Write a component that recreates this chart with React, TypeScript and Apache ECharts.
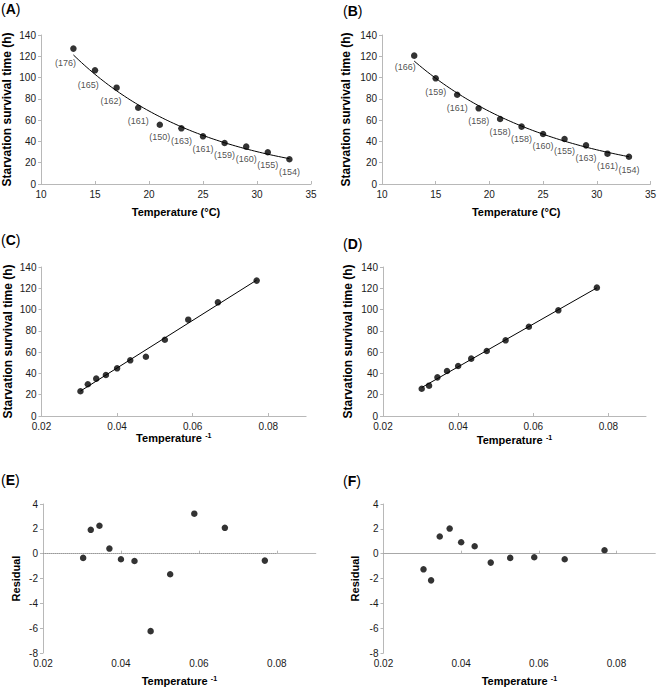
import React, { useEffect, useRef } from 'react';
import * as echarts from 'echarts';

// ---------- data ----------
const temperatures = [13, 15, 17, 19, 21, 23, 25, 27, 29, 31, 33];
const survivalA = [127.2, 106.8, 90.5, 71.7, 55.7, 52.3, 44.8, 38.5, 35.1, 29.8, 23.2];
const survivalB = [120.6, 99.3, 83.9, 71.1, 61.1, 53.9, 47.0, 42.3, 36.3, 28.5, 25.6];
const countsA = ['(176)', '(165)', '(162)', '(161)', '(150)', '(163)', '(161)', '(159)', '(160)', '(155)', '(154)'];
const countsB = ['(166)', '(159)', '(161)', '(158)', '(158)', '(158)', '(160)', '(155)', '(163)', '(161)', '(154)'];
const residualsE = [-0.56, 2.08, 3.22, -1.66, -6.24, -0.59, -0.45, 0.41, 2.25, 1.92, -0.34];
const residualsF = [0.28, -0.45, -0.29, -0.34, -0.72, 0.6, 0.92, 2.02, 1.38, -2.15, -1.26];
const invTicks = [0.02, 0.04, 0.06, 0.08];
const panelLetters = ['A', 'B', 'C', 'D', 'E', 'F'];

// ---------- style (label nudges) ----------
const labelShiftA = [[-8, 14.3], [-6.7, 15], [-5.5, 13.7], [0, 13], [0, 12], [0, 12.3], [0, 12.7], [0, 12.3], [0, 12.3], [0, 12.7], [0, 12.7]];
const labelShiftB = [[-9, 11.7], [0, 13.7], [0, 13.3], [0, 13], [0, 13.3], [0, 12.3], [0, 12.3], [0, 12.3], [0, 12.7], [0, 12.7], [0, 13.7]];

const FONT = '"Liberation Sans", Arial, Helvetica, sans-serif';
const AXIS_GRAY = '#b8b8b8';

function expFit(xs: number[], ys: number[]) {
  const n = xs.length;
  const ls = ys.map((v) => Math.log(v));
  const mx = xs.reduce((s, v) => s + v, 0) / n;
  const ml = ls.reduce((s, v) => s + v, 0) / n;
  let sxy = 0, sxx = 0;
  for (let i = 0; i < n; i++) { sxy += (xs[i] - mx) * (ls[i] - ml); sxx += (xs[i] - mx) ** 2; }
  const b = sxy / sxx;
  const a = Math.exp(ml - b * mx);
  return (x: number) => a * Math.exp(b * x);
}
function linFit(xs: number[], ys: number[]) {
  const n = xs.length;
  const mx = xs.reduce((s, v) => s + v, 0) / n;
  const my = ys.reduce((s, v) => s + v, 0) / n;
  let sxy = 0, sxx = 0;
  for (let i = 0; i < n; i++) { sxy += (xs[i] - mx) * (ys[i] - my); sxx += (xs[i] - mx) ** 2; }
  const b = sxy / sxx;
  const a = my - b * mx;
  return (x: number) => a + b * x;
}

const invT = temperatures.map((t) => 1 / t);

function curvePoints(ys: number[]) {
  const f = expFit(temperatures, ys);
  const pts: number[][] = [];
  const t0 = temperatures[0], t1 = temperatures[temperatures.length - 1];
  const steps = 80;
  for (let i = 0; i <= steps; i++) {
    const t = t0 + ((t1 - t0) * i) / steps;
    pts.push([t, f(t)]);
  }
  return pts;
}
function linePoints(ys: number[]) {
  const f = linFit(invT, ys);
  const lo = Math.min(...invT), hi = Math.max(...invT);
  return [[lo, f(lo)], [hi, f(hi)]];
}

const grids = [
  { left: 41, top: 35, width: 270, height: 149 },
  { left: 382, top: 35, width: 269, height: 149 },
  { left: 41.5, top: 267, width: 264.6, height: 149 },
  { left: 383, top: 267, width: 263, height: 149 },
  { left: 43, top: 504, width: 272.8, height: 149 },
  { left: 383.5, top: 504, width: 271.8, height: 149 },
];
const xNameGaps = [22, 22, 16, 18, 22, 22];
const yNameGaps = [28, 30, 28, 29, 22, 23];
const letterPos = [[1, 8.5], [343, 10.5], [1, 240], [343, 244], [1, 480], [343, 481]];

export default function App() {
  const ref = useRef<HTMLDivElement>(null);
  useEffect(() => {
    if (!ref.current) return;
    const chart = echarts.init(ref.current, undefined, { renderer: 'svg' });

    const axisLine = { show: true, lineStyle: { color: AXIS_GRAY, width: 1 } };
    const labelStyle = { fontSize: 10, color: '#1a1a1a', fontFamily: FONT, margin: 5 };

    const xAxes: any[] = grids.map((_, i) => {
      const base: any = {
        type: 'value',
        gridIndex: i,
        axisLine,
        splitLine: { show: false },
        nameLocation: 'middle',
        nameGap: xNameGaps[i],
      };
      if (i < 2) {
        return {
          ...base,
          min: 10, max: 35, interval: 5,
          axisTick: { show: true, inside: true, length: 3, lineStyle: { color: AXIS_GRAY } },
          axisLabel: { ...labelStyle },
          name: 'Temperature (°C)',
          nameTextStyle: { fontSize: 11, fontWeight: 'bold', color: '#000', fontFamily: FONT },
        };
      }
      return {
        ...base,
        min: 0.02, max: 0.09, interval: 0.02,
        axisTick: { show: true, inside: true, length: 3, lineStyle: { color: AXIS_GRAY }, customValues: invTicks },
        axisLabel: { ...labelStyle, customValues: invTicks, formatter: (v: number) => v.toFixed(2) },
        name: '{a|Temperature} {s|-1}',
        nameTextStyle: {
          color: '#000',
          fontFamily: FONT,
          rich: {
            a: { fontSize: 11, fontWeight: 'bold', color: '#000', fontFamily: FONT },
            s: { fontSize: 7, fontWeight: 'bold', color: '#000', fontFamily: FONT, verticalAlign: 'top', lineHeight: 8 },
          },
        },
      };
    });

    const yAxes: any[] = grids.map((_, i) => {
      const resid = i >= 4;
      return {
        type: 'value',
        gridIndex: i,
        min: resid ? -8 : 0,
        max: resid ? 4 : 140,
        interval: resid ? 2 : 20,
        axisLine,
        axisTick: { show: true, inside: false, length: 3, lineStyle: { color: AXIS_GRAY } },
        axisLabel: { ...labelStyle },
        splitLine: { show: false },
        name: resid ? 'Residual' : 'Starvation survival time (h)',
        nameLocation: 'middle',
        nameRotate: 90,
        nameGap: yNameGaps[i],
        nameTextStyle: { fontSize: resid ? 11 : 12, fontWeight: 'bold', color: '#000', fontFamily: FONT },
      };
    });

    const dot = { symbol: 'circle', symbolSize: 6.5, itemStyle: { color: '#000' } };
    const fitLine = {
      type: 'line', showSymbol: false, symbol: 'none', smooth: false,
      lineStyle: { color: '#000', width: 1 }, z: 1, silent: true,
    };
    const labelled = (ys: number[], labels: string[], shifts: number[][]) =>
      temperatures.map((t, i) => ({
        value: [t, ys[i]],
        label: {
          show: true, position: 'inside', offset: shifts[i], formatter: labels[i],
          fontSize: 9, color: '#222', fontFamily: FONT,
          textBorderWidth: 0, textBorderColor: 'transparent', textShadowBlur: 0,
        },
      }));
    const zeroLine = {
      silent: true,
      symbol: ['none', 'none'],
      label: { show: false },
      lineStyle: { type: 'dotted', color: '#999', width: 1 },
      data: [[{ coord: [invTicks[0], 0] }, { coord: [invTicks[invTicks.length - 1], 0] }]],
    };

    const series: any[] = [
      { ...fitLine, xAxisIndex: 0, yAxisIndex: 0, data: curvePoints(survivalA) },
      { type: 'scatter', ...dot, xAxisIndex: 0, yAxisIndex: 0, z: 3, data: labelled(survivalA, countsA, labelShiftA) },
      { ...fitLine, xAxisIndex: 1, yAxisIndex: 1, data: curvePoints(survivalB) },
      { type: 'scatter', ...dot, xAxisIndex: 1, yAxisIndex: 1, z: 3, data: labelled(survivalB, countsB, labelShiftB) },
      { ...fitLine, xAxisIndex: 2, yAxisIndex: 2, data: linePoints(survivalA) },
      { type: 'scatter', ...dot, xAxisIndex: 2, yAxisIndex: 2, z: 3, data: invT.map((x, i) => [x, survivalA[i]]) },
      { ...fitLine, xAxisIndex: 3, yAxisIndex: 3, data: linePoints(survivalB) },
      { type: 'scatter', ...dot, xAxisIndex: 3, yAxisIndex: 3, z: 3, data: invT.map((x, i) => [x, survivalB[i]]) },
      { type: 'scatter', ...dot, xAxisIndex: 4, yAxisIndex: 4, z: 3, data: invT.map((x, i) => [x, residualsE[i]]), markLine: zeroLine },
      { type: 'scatter', ...dot, xAxisIndex: 5, yAxisIndex: 5, z: 3, data: invT.map((x, i) => [x, residualsF[i]]), markLine: zeroLine },
    ];

    const graphic = panelLetters.map((L, i) => ({
      type: 'text',
      x: letterPos[i][0],
      y: letterPos[i][1],
      style: {
        text: `{p|(}{b|${L}}{p|)}`,
        fill: '#000',
        verticalAlign: 'middle',
        fontFamily: FONT,
        fontSize: 14,
        rich: {
          p: { fontSize: 14, fontWeight: 'normal', fill: '#000', fontFamily: FONT },
          b: { fontSize: 14, fontWeight: 'bold', fill: '#000', fontFamily: FONT },
        },
      },
    }));

    chart.setOption({
      animation: false,
      backgroundColor: '#fff',
      textStyle: { fontFamily: FONT },
      grid: grids.map((g) => ({ ...g, containLabel: false })),
      xAxis: xAxes,
      yAxis: yAxes,
      series,
      graphic,
    });
    return () => chart.dispose();
  }, []);

  return (
    <div
      ref={ref}
      style={{ position: 'absolute', left: 0, top: 0, width: 659, height: 689, background: '#fff' }}
    />
  );
}
